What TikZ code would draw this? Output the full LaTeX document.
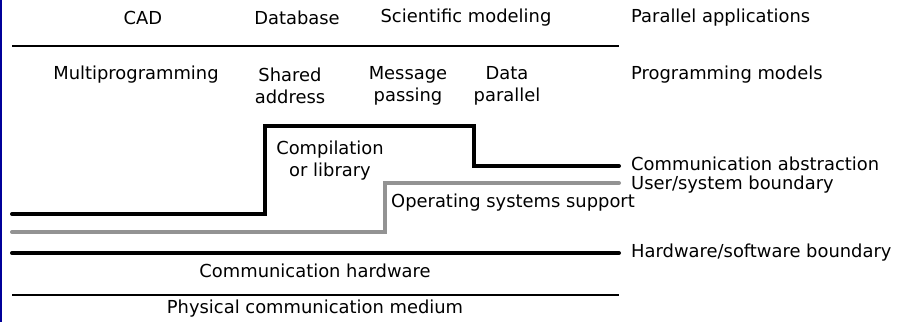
\documentclass[tikz,border=0pt]{standalone}
\usepackage{fontspec}
\setmainfont{DejaVu Sans}
\begin{document}
\begin{tikzpicture}[x=1pt,y=-1pt,
  lbl/.style={inner sep=0pt,font=\fontsize{17.9}{22}\selectfont},
  ml/.style={lbl,align=center},
  thinline/.style={line width=1.3pt,black},
  thickline/.style={line width=4pt,black,line cap=round},
  grayline/.style={line width=4pt,gray!85,line cap=round}]
\useasboundingbox (0,0) rectangle (912,322);
\draw[blue!60!black,line width=1.5pt] (1,0) -- (1,322);
% row 1
\node[lbl] (cad) at (143,18) {CAD};
\node[lbl] (db) at (297,18) {Database};
\node[lbl] (sci) at (466,18) {Scientific modeling};
\node[lbl,anchor=west] (pa) at (631,18) {Parallel applications};
\coordinate (l1a) at (12,46); \coordinate (l1b) at (619,46);
\draw[thinline] (l1a) -- (l1b);
% row 2
\node[lbl] (mp) at (136,75) {Multiprogramming};
\node[ml] (sa) at (290,86) {Shared\\address};
\node[ml] (msg) at (408,86) {Message\\passing};
\node[ml] (dp) at (507,86) {Data\\parallel};
\node[lbl,anchor=west] (pm) at (631,75) {Programming models};
% communication abstraction
\coordinate (ca0) at (12,214); \coordinate (ca1) at (265,214);
\coordinate (ca2) at (265,126); \coordinate (ca3) at (474,126);
\coordinate (ca4) at (474,166); \coordinate (ca5) at (619,166);
\draw[thickline,line join=miter] (ca0) -- (ca1) -- (ca2) -- (ca3) -- (ca4) -- (ca5);
\node[ml] (comp) at (330,161) {Compilation\\or library};
\node[lbl,anchor=west] (cal) at (631,164) {Communication abstraction};
% user/system boundary
\coordinate (us0) at (12,232); \coordinate (us1) at (385,232);
\coordinate (us2) at (385,183); \coordinate (us3) at (619,183);
\draw[grayline,line join=miter] (us0) -- (us1) -- (us2) -- (us3);
\node[lbl,anchor=west] (osl) at (391,203) {Operating systems support};
\node[lbl,anchor=west] (usl) at (631,185) {User/system boundary};
% hardware/software boundary
\coordinate (hw0) at (12,253); \coordinate (hw1) at (619,253);
\draw[thickline] (hw0) -- (hw1);
\node[lbl,anchor=west] (hwl) at (631,253) {Hardware/software boundary};
\node[lbl] (ch) at (315,271) {Communication hardware};
\coordinate (l2a) at (12,295); \coordinate (l2b) at (619,295);
\draw[thinline] (l2a) -- (l2b);
\node[lbl] (pcm) at (315,309) {Physical communication medium};
\end{tikzpicture}
\end{document}
